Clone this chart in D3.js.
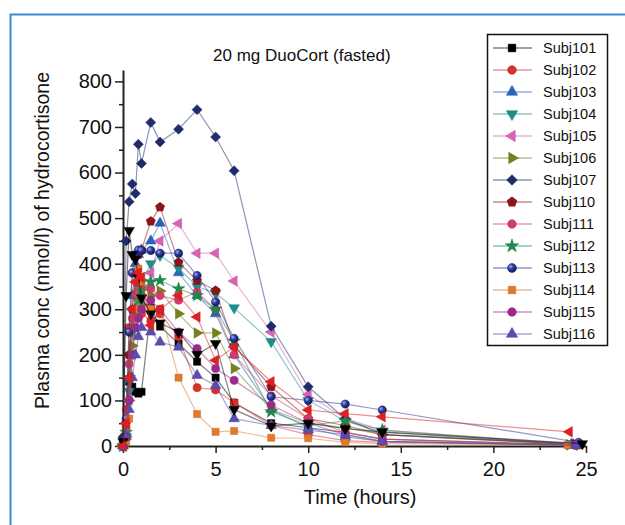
<!DOCTYPE html>
<html>
<head>
<meta charset="utf-8">
<script src="https://cdn.jsdelivr.net/npm/d3@7/dist/d3.min.js"></script>
<style>
  html, body { margin: 0; padding: 0; background: #fff; }
  svg { display: block; font-family: "Liberation Sans", Arial, Helvetica, sans-serif; }
</style>
</head>
<body>
<svg id="chart" width="625" height="525"></svg>
<script>
// ---------------- DATA ----------------
const times = [0, 0.17, 0.33, 0.5, 0.67, 0.83, 1, 1.5, 2, 3, 4, 5, 6, 8, 10, 12, 14, 24];

const subj101 = [5, 20, 141, 130, 119, 115, 119, 303, 262, 225, 185, 150, 95, 50, 40, 30, 15, 3];
const subj102 = [0, 80, 260, 380, 330, 300, 290, 275, 290, 240, 128, 123, 95, 45, 25, 12, 8, 2];
const subj103 = [0, 30, 150, 330, 400, 420, 430, 450, 489, 380, 330, 290, 200, 80, 40, 20, 10, 2];
const subj104 = [0, 20, 120, 250, 330, 350, 360, 400, 418, 390, 350, 335, 303, 229, 100, 55, 30, 3];
const subj105 = [0, 20, 100, 200, 260, 300, 320, 380, 450, 488, 423, 423, 362, 250, 113, 60, 35, 5];
const subj106 = [0, 20, 100, 220, 280, 300, 310, 330, 340, 290, 248, 248, 170, 80, 50, 40, 25, 3];
const subj107 = [20, 450, 536, 575, 554, 662, 620, 710, 667, 695, 738, 678, 604, 263, 130, 60, 25, 5];
const subj110 = [0, 50, 200, 300, 380, 420, 430, 493, 524, 403, 363, 341, 220, 130, 60, 45, 25, 3];
const subj111 = [0, 40, 180, 280, 330, 340, 350, 345, 330, 320, 338, 300, 200, 110, 60, 30, 15, 2];
const subj112 = [0, 30, 150, 250, 300, 320, 340, 360, 363, 345, 330, 300, 230, 75, 45, 55, 35, 3];
const subj113 = [0, 60, 250, 380, 420, 430, 429, 429, 423, 423, 374, 316, 236, 108, 100, 92, 79, 8];
const subj114 = [0, 10, 60, 200, 300, 389, 360, 301, 300, 150, 70, 31, 33, 18, 17, 8, 5, 2];
const subj115 = [0, 20, 100, 200, 260, 280, 300, 320, 300, 250, 214, 170, 144, 90, 50, 25, 10, 2];
const subj116 = [0, 20, 80, 150, 200, 240, 260, 250, 228, 217, 155, 133, 60, 45, 35, 25, 10, 2];
// two further series drawn in the figure but not listed in its legend
const unlabeledA = [10, 330, 473, 420, 410, 370, 325, 290, 270, 250, 201, 225, 80, 44, 50, 38, 31, 5];
const unlabeledB = [0, 50, 150, 300, 360, 380, 370, 265, 300, 330, 283, 188, 217, 141, 79, 71, 64, 31];

// last sampling time as plotted for each series (the 24 h samples are spread a little)
const lastTimes = [24.3, 24.6, 24.2, 24.5, 24.4, 24.1, 24.3, 24.7, 24.5, 24.2, 24.6, 24.0, 24.4, 24.5, 24.8, 24.1];

const legendNames = ["Subj101","Subj102","Subj103","Subj104","Subj105","Subj106","Subj107",
                     "Subj110","Subj111","Subj112","Subj113","Subj114","Subj115","Subj116"];
const xTicks = [0, 5, 10, 15, 20, 25];
const yTicks = [0, 100, 200, 300, 400, 500, 600, 700, 800];
const titleText = "20 mg DuoCort (fasted)";
const xTitle = "Time (hours)";
const yTitle = "Plasma conc (nmol/l) of hydrocortisone";

// ---------------- STYLE ----------------
const symbolPentagon = {
  draw(ctx, size) {
    const r = Math.sqrt(size / 2.378);
    for (let i = 0; i < 5; i++) {
      const a = -Math.PI / 2 + i * 2 * Math.PI / 5;
      const px = r * Math.cos(a), py = r * Math.sin(a);
      if (i === 0) ctx.moveTo(px, py); else ctx.lineTo(px, py);
    }
    ctx.closePath();
  }
};

const series = [
  { name: "Subj101", values: subj101, color: "#000000", sym: d3.symbolSquare, rot: 0, size: 52, legend: true },
  { name: "Subj102", values: subj102, color: "#d8322a", sym: d3.symbolCircle, rot: 0, size: 52, legend: true },
  { name: "Subj103", values: subj103, color: "#2a62c0", sym: d3.symbolTriangle, rot: 0, size: 48, legend: true },
  { name: "Subj104", values: subj104, color: "#1a8f8c", sym: d3.symbolTriangle, rot: 180, size: 48, legend: true },
  { name: "Subj105", values: subj105, color: "#d862b4", sym: d3.symbolTriangle, rot: -90, size: 48, legend: true },
  { name: "Subj106", values: subj106, color: "#74821e", sym: d3.symbolTriangle, rot: 90, size: 48, legend: true },
  { name: "Subj107", values: subj107, color: "#202b6e", sym: d3.symbolSquare, rot: 45, size: 50, legend: true },
  { name: "Subj110", values: subj110, color: "#8e1418", sym: symbolPentagon, rot: 0, size: 55, legend: true },
  { name: "Subj111", values: subj111, color: "#d63a6c", sym: d3.symbolCircle, rot: 0, size: 52, legend: true },
  { name: "Subj112", values: subj112, color: "#1f8a4c", sym: d3.symbolStar, rot: 0, size: 50, legend: true },
  { name: "Subj113", values: subj113, color: "#27338f", sym: d3.symbolCircle, rot: 0, size: 55, legend: true, sphere: true },
  { name: "Subj114", values: subj114, color: "#e27a2c", sym: d3.symbolSquare, rot: 0, size: 50, legend: true },
  { name: "Subj115", values: subj115, color: "#9a2a8e", sym: d3.symbolCircle, rot: 0, size: 52, legend: true },
  { name: "Subj116", values: subj116, color: "#5a4db0", sym: d3.symbolTriangle, rot: 0, size: 48, legend: true },
  { name: "unlabeledA", values: unlabeledA, color: "#000000", sym: d3.symbolTriangle, rot: 180, size: 48, legend: false },
  { name: "unlabeledB", values: unlabeledB, color: "#e02020", sym: d3.symbolTriangle, rot: -90, size: 48, legend: false }
];

// ---------------- CHART ----------------
const svg = d3.select("#chart");

// blue frame
svg.append("path")
  .attr("d", "M10.5,525 V14.5 H625")
  .attr("fill", "none")
  .attr("stroke", "#3a8bd0")
  .attr("stroke-width", 2);

const x = d3.scaleLinear().domain([0, 25]).range([123, 586]);
const y = d3.scaleLinear().domain([0, 825]).range([446, 70]);

const defs = svg.append("defs");
const grad = defs.append("radialGradient").attr("id", "sphere")
  .attr("cx", "35%").attr("cy", "35%").attr("r", "65%");
grad.append("stop").attr("offset", "0%").attr("stop-color", "#9fb0ff");
grad.append("stop").attr("offset", "45%").attr("stop-color", "#2f3da0");
grad.append("stop").attr("offset", "100%").attr("stop-color", "#141a55");

// axes - minor ticks
const yMinor = d3.range(50, 825, 100);
svg.append("g").attr("transform", "translate(123,0)")
  .call(d3.axisLeft(y).tickValues(yMinor).tickSize(4).tickSizeOuter(0).tickFormat(""))
  .call(g => g.select(".domain").remove())
  .call(g => g.selectAll("line").attr("stroke", "#222").attr("stroke-width", 1.5));
const xMinor = d3.range(2.5, 25, 5);
svg.append("g").attr("transform", "translate(0,446)")
  .call(d3.axisBottom(x).tickValues(xMinor).tickSize(4).tickSizeOuter(0).tickFormat(""))
  .call(g => g.select(".domain").remove())
  .call(g => g.selectAll("line").attr("stroke", "#222").attr("stroke-width", 1.5));

// major axes
const yAxis = svg.append("g").attr("transform", "translate(123,0)")
  .call(d3.axisLeft(y).tickValues(yTicks).tickSize(8).tickSizeOuter(0).tickPadding(3));
const xAxis = svg.append("g").attr("transform", "translate(0,446)")
  .call(d3.axisBottom(x).tickValues(xTicks).tickSize(7).tickSizeOuter(0).tickPadding(9));
[yAxis, xAxis].forEach(g => {
  g.select(".domain").attr("stroke", "#222").attr("stroke-width", 2);
  g.selectAll(".tick line").attr("stroke", "#222").attr("stroke-width", 1.5);
  g.selectAll(".tick text").attr("fill", "#111")
    .style("font-size", "20px").style("font-family", "'Liberation Sans', Arial, sans-serif");
});

// series
const line = d3.line().defined(d => d.v != null).x(d => x(d.t)).y(d => y(d.v));
const plot = svg.append("g");
series.forEach((s, si) => {
  const pts = times.map((t, i) => ({ t: i === times.length - 1 ? lastTimes[si] : t, v: s.values[i] }));
  const g = plot.append("g");
  g.append("path").datum(pts)
    .attr("d", line)
    .attr("fill", "none")
    .attr("stroke", s.color)
    .attr("stroke-opacity", 0.5)
    .attr("stroke-width", 1.2);
  g.selectAll("path.m").data(pts.filter(d => d.v != null)).enter().append("path")
    .attr("class", "m")
    .attr("d", d3.symbol().type(s.sym).size(s.size))
    .attr("transform", d => `translate(${x(d.t)},${y(d.v)}) rotate(${s.rot})`)
    .attr("fill", s.sphere ? "url(#sphere)" : s.color)
    .attr("stroke", d3.color(s.color).darker(0.4))
    .attr("stroke-width", 0.5);
});

// title
svg.append("text")
  .attr("x", 213).attr("y", 61)
  .style("font-size", "17px").attr("fill", "#111")
  .text(titleText);

// axis titles
svg.append("text")
  .attr("x", 360).attr("y", 504)
  .attr("text-anchor", "middle")
  .style("font-size", "20px").attr("fill", "#111")
  .text(xTitle);
svg.append("text")
  .attr("transform", "translate(49,240.5) rotate(-90)")
  .attr("text-anchor", "middle")
  .style("font-size", "19.5px").attr("fill", "#111")
  .text(yTitle);

// legend
const lg = svg.append("g");
lg.append("rect")
  .attr("x", 487.5).attr("y", 34.5).attr("width", 120).attr("height", 311)
  .attr("fill", "#fff").attr("stroke", "#111").attr("stroke-width", 1.5);
series.filter(s => s.legend && legendNames.includes(s.name)).forEach((s, i) => {
  const yy = 48 + 22 * i;
  lg.append("line").attr("x1", 493).attr("x2", 532).attr("y1", yy).attr("y2", yy)
    .attr("stroke", s.color).attr("stroke-opacity", 0.5).attr("stroke-width", 1.5);
  lg.append("path")
    .attr("d", d3.symbol().type(s.sym).size(s.size * 1.15))
    .attr("transform", `translate(512,${yy}) rotate(${s.rot})`)
    .attr("fill", s.sphere ? "url(#sphere)" : s.color)
    .attr("stroke", d3.color(s.color).darker(0.4)).attr("stroke-width", 0.5);
  lg.append("text").attr("x", 543).attr("y", yy + 5)
    .style("font-size", "14.5px").attr("fill", "#111")
    .text(s.name);
});
</script>
</body>
</html>
